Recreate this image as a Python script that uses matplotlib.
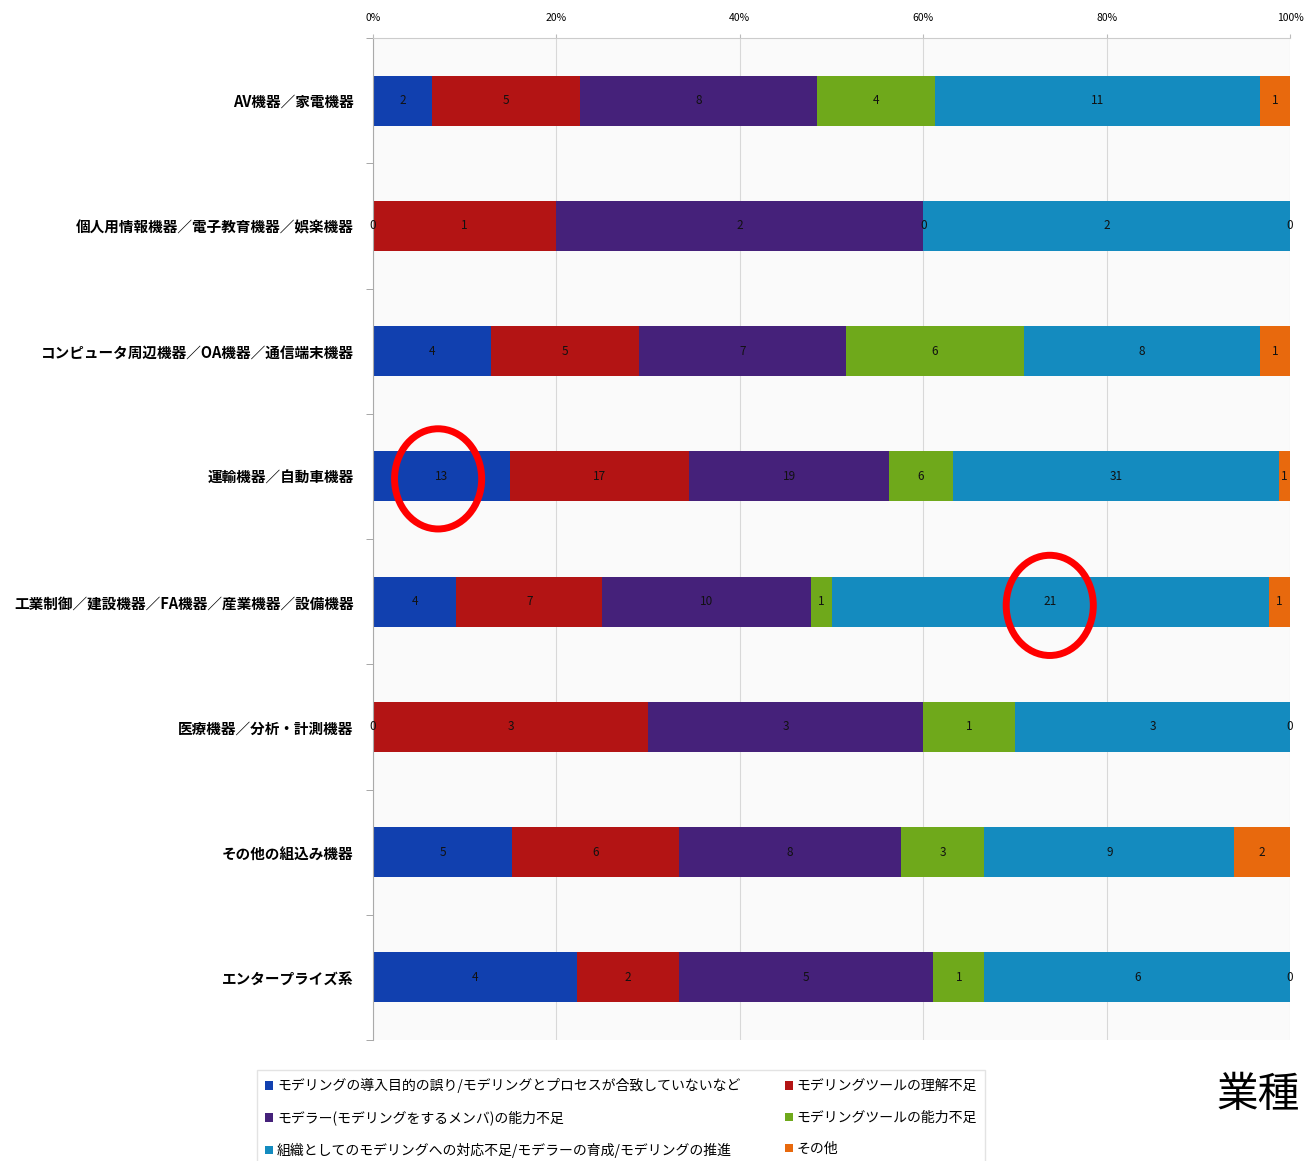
import matplotlib.pyplot as plt
from matplotlib.patches import Ellipse
import numpy as np

plt.rcParams['font.family'] = ['Noto Sans CJK JP', 'DejaVu Sans']

categories = ['AV機器／家電機器',
              '個人用情報機器／電子教育機器／娯楽機器',
              'コンピュータ周辺機器／OA機器／通信端末機器',
              '運輸機器／自動車機器',
              '工業制御／建設機器／FA機器／産業機器／設備機器',
              '医療機器／分析・計測機器',
              'その他の組込み機器',
              'エンタープライズ系']

series_names = ['モデリングの導入目的の誤り/モデリングとプロセスが合致していないなど',
                'モデリングツールの理解不足',
                'モデラー(モデリングをするメンバ)の能力不足',
                'モデリングツールの能力不足',
                '組織としてのモデリングへの対応不足/モデラーの育成/モデリングの推進',
                'その他']

purpose_err = [2, 0, 4, 13, 4, 0, 5, 4]
tool_understanding = [5, 1, 5, 17, 7, 3, 6, 2]
modeler_skill = [8, 2, 7, 19, 10, 3, 8, 5]
tool_capability = [4, 0, 6, 6, 1, 1, 3, 1]
organization = [11, 2, 8, 31, 21, 3, 9, 6]
other = [1, 0, 1, 1, 1, 0, 2, 0]

colors = ['#1140AF', '#B31414', '#45217A', '#6FA91B', '#148BBF', '#E8690D']

data = np.array([purpose_err, tool_understanding, modeler_skill,
                 tool_capability, organization, other], dtype=float)
totals = data.sum(axis=0)
shares = data / totals

fig = plt.figure(figsize=(13.06, 11.61), dpi=100)
ax = fig.add_axes([373 / 1306, 1 - 1040 / 1161, 917 / 1306, 1002 / 1161])
ax.set_facecolor('#fafafa')

y = np.arange(len(categories))
left = np.zeros(len(categories))
handles = []
for i in range(len(series_names)):
    bars = ax.barh(y, shares[i], left=left, height=0.4, color=colors[i],
                   label=series_names[i], zorder=2)
    ax.bar_label(bars, labels=[str(int(v)) for v in data[i]], label_type='center',
                 fontsize=8.5, color='#111111')
    handles.append(bars)
    left += shares[i]

ax.set_ylim(len(categories) - 0.5, -0.5)
ax.set_xlim(0, 1)
ax.set_yticks(y)
ax.set_yticklabels(categories, fontsize=10.5, fontweight='bold')
ax.set_yticks(np.arange(len(categories) + 1) - 0.5, minor=True)
ax.tick_params(axis='y', which='major', length=0, pad=14)
ax.tick_params(axis='y', which='minor', length=5, color='#999999')

ax.xaxis.tick_top()
ax.set_xticks([0, 0.2, 0.4, 0.6, 0.8, 1.0])
ax.set_xticklabels(['0%', '20%', '40%', '60%', '80%', '100%'], fontsize=7.5)
ax.tick_params(axis='x', length=3, color='#bbbbbb', pad=8)
ax.grid(axis='x', color='#d8d8d8', linewidth=0.8, zorder=0)

for side in ['right', 'bottom']:
    ax.spines[side].set_visible(False)
ax.spines['left'].set_color('#aaaaaa')
ax.spines['top'].set_color('#cccccc')

# red circles
for cx, cy in [(0.071, 3.02), (0.738, 4.03)]:
    ax.add_patch(Ellipse((cx, cy), 0.095, 0.8, fill=False, edgecolor='#ff0000',
                         linewidth=5, zorder=5, clip_on=False))

order = [0, 2, 4, 1, 3, 5]
leg = fig.legend([handles[k] for k in order], [series_names[k] for k in order],
                 loc='upper left', bbox_to_anchor=(250 / 1306, 1 - 1063 / 1161),
                 ncol=2, fontsize=10, frameon=True, fancybox=False,
                 edgecolor='#dddddd', handlelength=0.55, handleheight=0.55,
                 handletextpad=0.3, columnspacing=3.2, labelspacing=1.25,
                 borderpad=0.6)

fig.text(1216 / 1306, 1 - 1095 / 1161, '業種', fontsize=30, va='center', ha='left')

fig.savefig('out.png', dpi=100)
